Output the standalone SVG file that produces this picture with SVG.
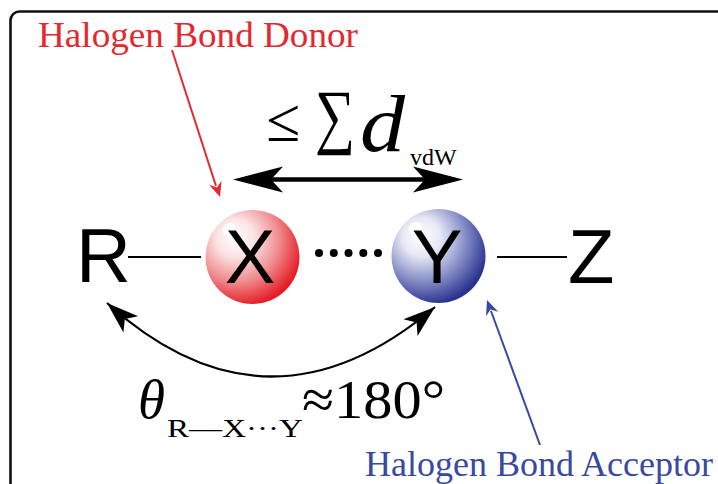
<svg xmlns="http://www.w3.org/2000/svg" width="718" height="484" viewBox="0 0 718 484">
<style>
.serif{font-family:"Liberation Serif","Times New Roman",serif}
.sans{font-family:"Liberation Sans",Arial,sans-serif}
.atom{font-size:76px;fill:#000}
.lbl{font-size:35px}
.bond{stroke:#000;stroke-width:2.2;fill:none}
</style>
<defs>
<radialGradient id="gRed" cx="0.36" cy="0.34" r="0.68" fx="0.3" fy="0.28">
<stop offset="0" stop-color="#ffffff"/>
<stop offset="0.3" stop-color="#fbe3e3"/>
<stop offset="0.65" stop-color="#f08c8f"/>
<stop offset="1" stop-color="#e41e26"/>
</radialGradient>
<radialGradient id="gBlue" cx="0.36" cy="0.34" r="0.68" fx="0.3" fy="0.28">
<stop offset="0" stop-color="#ffffff"/>
<stop offset="0.3" stop-color="#e6e8f5"/>
<stop offset="0.65" stop-color="#8890c8"/>
<stop offset="1" stop-color="#2a348f"/>
</radialGradient>
<path id="hb" d="M0,0 L-50,-13 L-38,0 L-50,13 Z"/>
<path id="hm" d="M0,0 L-32,-11 L-24,0 L-32,11 Z"/>
<path id="hs" d="M0,0 L-15,-6.5 L-10,0 L-15,6.5 Z"/>
</defs>
<rect x="10.5" y="11.5" width="800" height="600" rx="9" fill="#fff" stroke="#111" stroke-width="2.6"/>

<g id="donor-label">
<text class="serif lbl" x="38" y="47" fill="#e4282f" textLength="320" lengthAdjust="spacingAndGlyphs">Halogen Bond Donor</text>
</g>
<g id="acceptor-label">
<text class="serif lbl" x="365" y="476" fill="#3a49a0" textLength="348" lengthAdjust="spacingAndGlyphs">Halogen Bond Acceptor</text>
</g>

<g id="R"><text class="sans atom" x="76" y="282">R</text></g>
<g id="X">
<circle cx="252.5" cy="257" r="47" fill="url(#gRed)"/>
<ellipse cx="229" cy="229" rx="7" ry="5.5" fill="#fff" transform="rotate(-35 229 229)"/>
<text class="sans atom" x="250" y="283" text-anchor="middle">X</text>
</g>
<g id="Y">
<circle cx="438.5" cy="256" r="47" fill="url(#gBlue)"/>
<ellipse cx="415" cy="228" rx="7" ry="5.5" fill="#fff" transform="rotate(-35 415 228)"/>
<text class="sans atom" x="437" y="283" text-anchor="middle">Y</text>
</g>
<g id="Z"><text class="sans atom" x="568" y="283">Z</text></g>

<g id="distance-label">
<text class="serif" x="266" y="141" font-size="62">≤</text>
<text class="serif"><tspan x="315" y="140" font-size="72" textLength="40" lengthAdjust="spacingAndGlyphs">∑</tspan><tspan x="360" y="151" font-size="80" font-style="italic" textLength="45" lengthAdjust="spacingAndGlyphs">d</tspan><tspan x="410" y="165" font-size="24">vdW</tspan></text>
</g>

<g id="angle-label">
<text class="serif" x="138" y="418" font-size="55" font-style="italic">θ</text>
<text class="serif" x="167" y="437" font-size="25" textLength="136" lengthAdjust="spacingAndGlyphs">R—X···Y</text>
<text class="serif" x="302" y="418" font-size="55" textLength="143" lengthAdjust="spacingAndGlyphs">≈180°</text>
</g>

<g id="connectors">
<line class="bond" x1="128" y1="257" x2="201" y2="257"/>
<line class="bond" x1="497" y1="257" x2="567" y2="257"/>
<g fill="#000">
<circle cx="319" cy="253" r="4"/>
<circle cx="333.8" cy="253" r="4"/>
<circle cx="348.5" cy="253" r="4"/>
<circle cx="363.3" cy="253" r="4"/>
<circle cx="378" cy="253" r="4"/>
</g>
<line x1="268" y1="179.5" x2="428" y2="179.5" stroke="#000" stroke-width="4.5"/>
<use href="#hb" transform="translate(233 179.5) rotate(180)" fill="#000"/>
<use href="#hb" transform="translate(463 179.5)" fill="#000"/>
<path d="M107,303 Q268,448 435,307" fill="none" stroke="#000" stroke-width="2.2"/>
<use href="#hm" transform="translate(107 303) rotate(222)" fill="#000"/>
<use href="#hm" transform="translate(435 307) rotate(-40)" fill="#000"/>
<line x1="172" y1="50" x2="216" y2="186" stroke="#e4282f" stroke-width="2"/>
<use href="#hs" transform="translate(220 197) rotate(72)" fill="#e4282f"/>
<line x1="540" y1="445" x2="491" y2="311" stroke="#3a49a0" stroke-width="2"/>
<use href="#hs" transform="translate(487 300) rotate(-110)" fill="#3a49a0"/>
</g>
</svg>
